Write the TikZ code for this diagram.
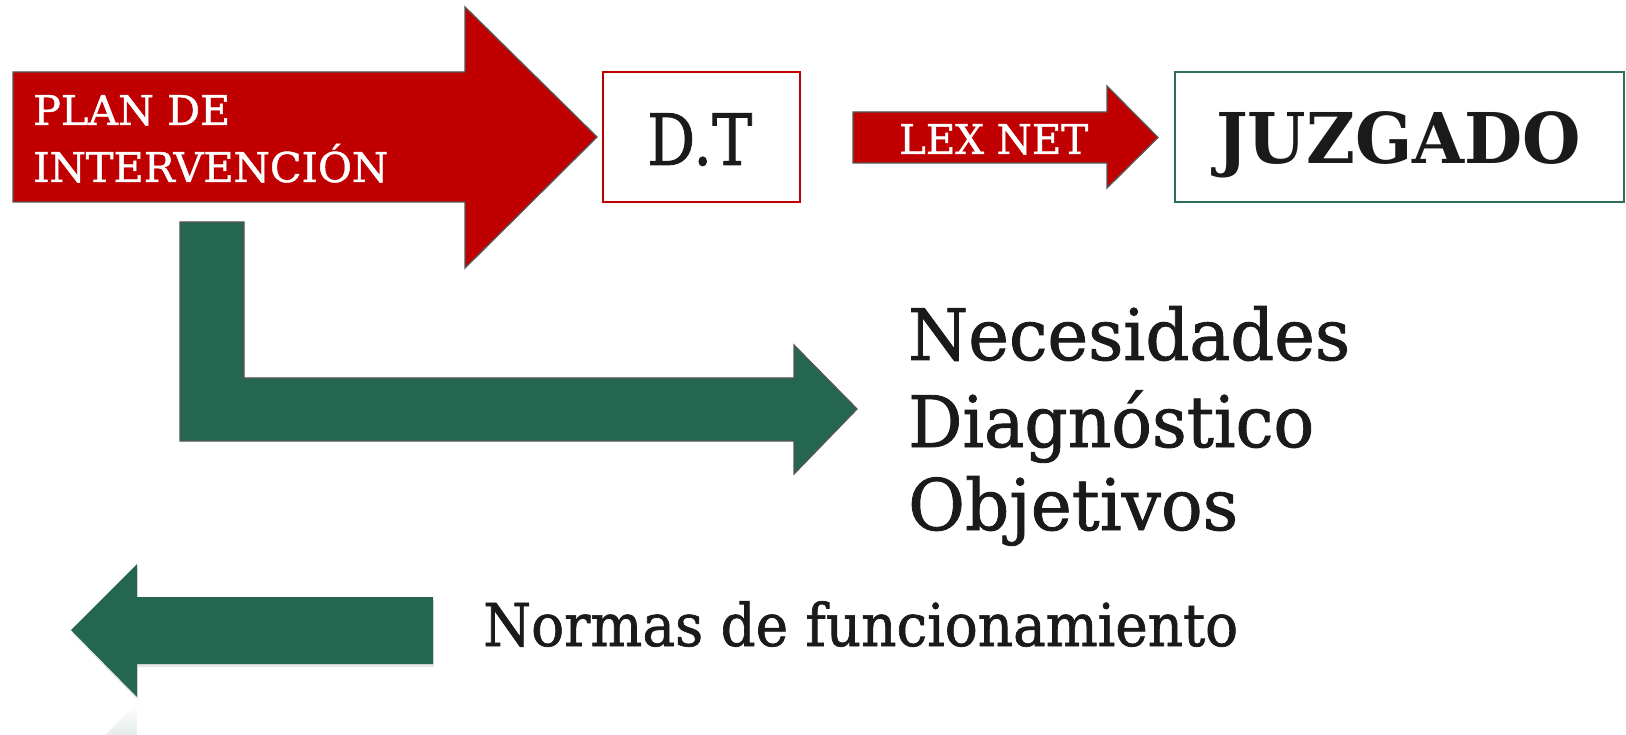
\documentclass[tikz,border=0pt]{standalone}
\usepackage{fontspec}
\setmainfont{DejaVu Serif}
\newfontfamily\heavy[FakeBold=1.2]{DejaVu Serif}
\usepackage{graphicx}
\usetikzlibrary{shadows,fadings}
\definecolor{pred}{HTML}{C00000}
\definecolor{pgreen}{HTML}{256651}
\definecolor{bgreen}{HTML}{2E7055}
\definecolor{ink}{HTML}{1A1A1A}
\definecolor{edge}{HTML}{555555}
\newcommand{\fitw}[2]{\resizebox{#1}{\height}{#2}}
\newcommand{\fsz}[1]{\fontsize{#1}{#1}\selectfont}
\tikzset{
  redarrow/.style={fill=pred, draw=edge, line width=1.3pt, line join=miter},
  greenarrow/.style={fill=pgreen, draw=edge, line width=1.3pt, line join=miter},
  lbl/.style={inner sep=0pt, anchor=base west, font=\heavy},
  wlbl/.style={lbl, text=white},
  klbl/.style={lbl, text=ink},
}
\begin{document}
\begin{tikzpicture}[x=1pt,y=-1pt]
\useasboundingbox (0,0) rectangle (1626,735);
% big red arrow
\draw[redarrow] (13,72) -- (465,72) -- (465,7) -- (597,137) -- (465,268) -- (465,202) -- (13,202) -- cycle;
\node[wlbl] (plan1) at (33,125) {\fsz{41}\fitw{197pt}{PLAN DE}};
\node[wlbl] (plan2) at (33,182) {\fsz{41}\fitw{355pt}{INTERVENCIÓN}};
% D.T box
\draw[pred, line width=1.5pt] (603,72) rectangle (800,202);
\node[klbl] (dt) at (647,165) {\fsz{71}\fitw{105pt}{D.T}};
% LEX NET arrow
\draw[redarrow] (853,112) -- (1107,112) -- (1107,86) -- (1158,137.5) -- (1107,188) -- (1107,163) -- (853,163) -- cycle;
\node[wlbl] (lex) at (899,154) {\fsz{41}\fitw{189pt}{LEX NET}};
% JUZGADO box
\draw[bgreen, line width=1.5pt] (1175,72) rectangle (1624,202);
\node[klbl, font=\rmfamily] (juz) at (1216,164) {\fsz{70}\fitw{365pt}{\bfseries JUZGADO}};
% green L arrow
\draw[greenarrow] (180,222) -- (244,222) -- (244,378) -- (794,378) -- (794,345) -- (857,409) -- (794,474) -- (794,441) -- (180,441) -- cycle;
% list
\node[klbl] (nec) at (908,360) {\fsz{71}\fitw{442pt}{Necesidades}};
\node[klbl] (dia) at (908,447) {\fsz{71}\fitw{406pt}{Diagnóstico}};
\node[klbl] (obj) at (908,530) {\fsz{71}\fitw{330pt}{Objetivos}};
% left arrow reflection
\begin{scope}
\clip (0,700) rectangle (450,735);
\fill[pgreen, path fading=north, fill opacity=0.5] (433,803) -- (137,803) -- (137,836) -- (71,770) -- (137,703) -- (137,736) -- (433,736) -- cycle;
\end{scope}
% left arrow
\fill[pgreen, drop shadow={shadow xshift=1pt, shadow yshift=-3pt, opacity=0.2}] (433,597) -- (137,597) -- (137,564) -- (71,630) -- (137,697) -- (137,664) -- (433,664) -- cycle;
\node[klbl] (norm) at (483,646) {\fsz{59}\fitw{755pt}{Normas de funcionamiento}};
\end{tikzpicture}
\end{document}
